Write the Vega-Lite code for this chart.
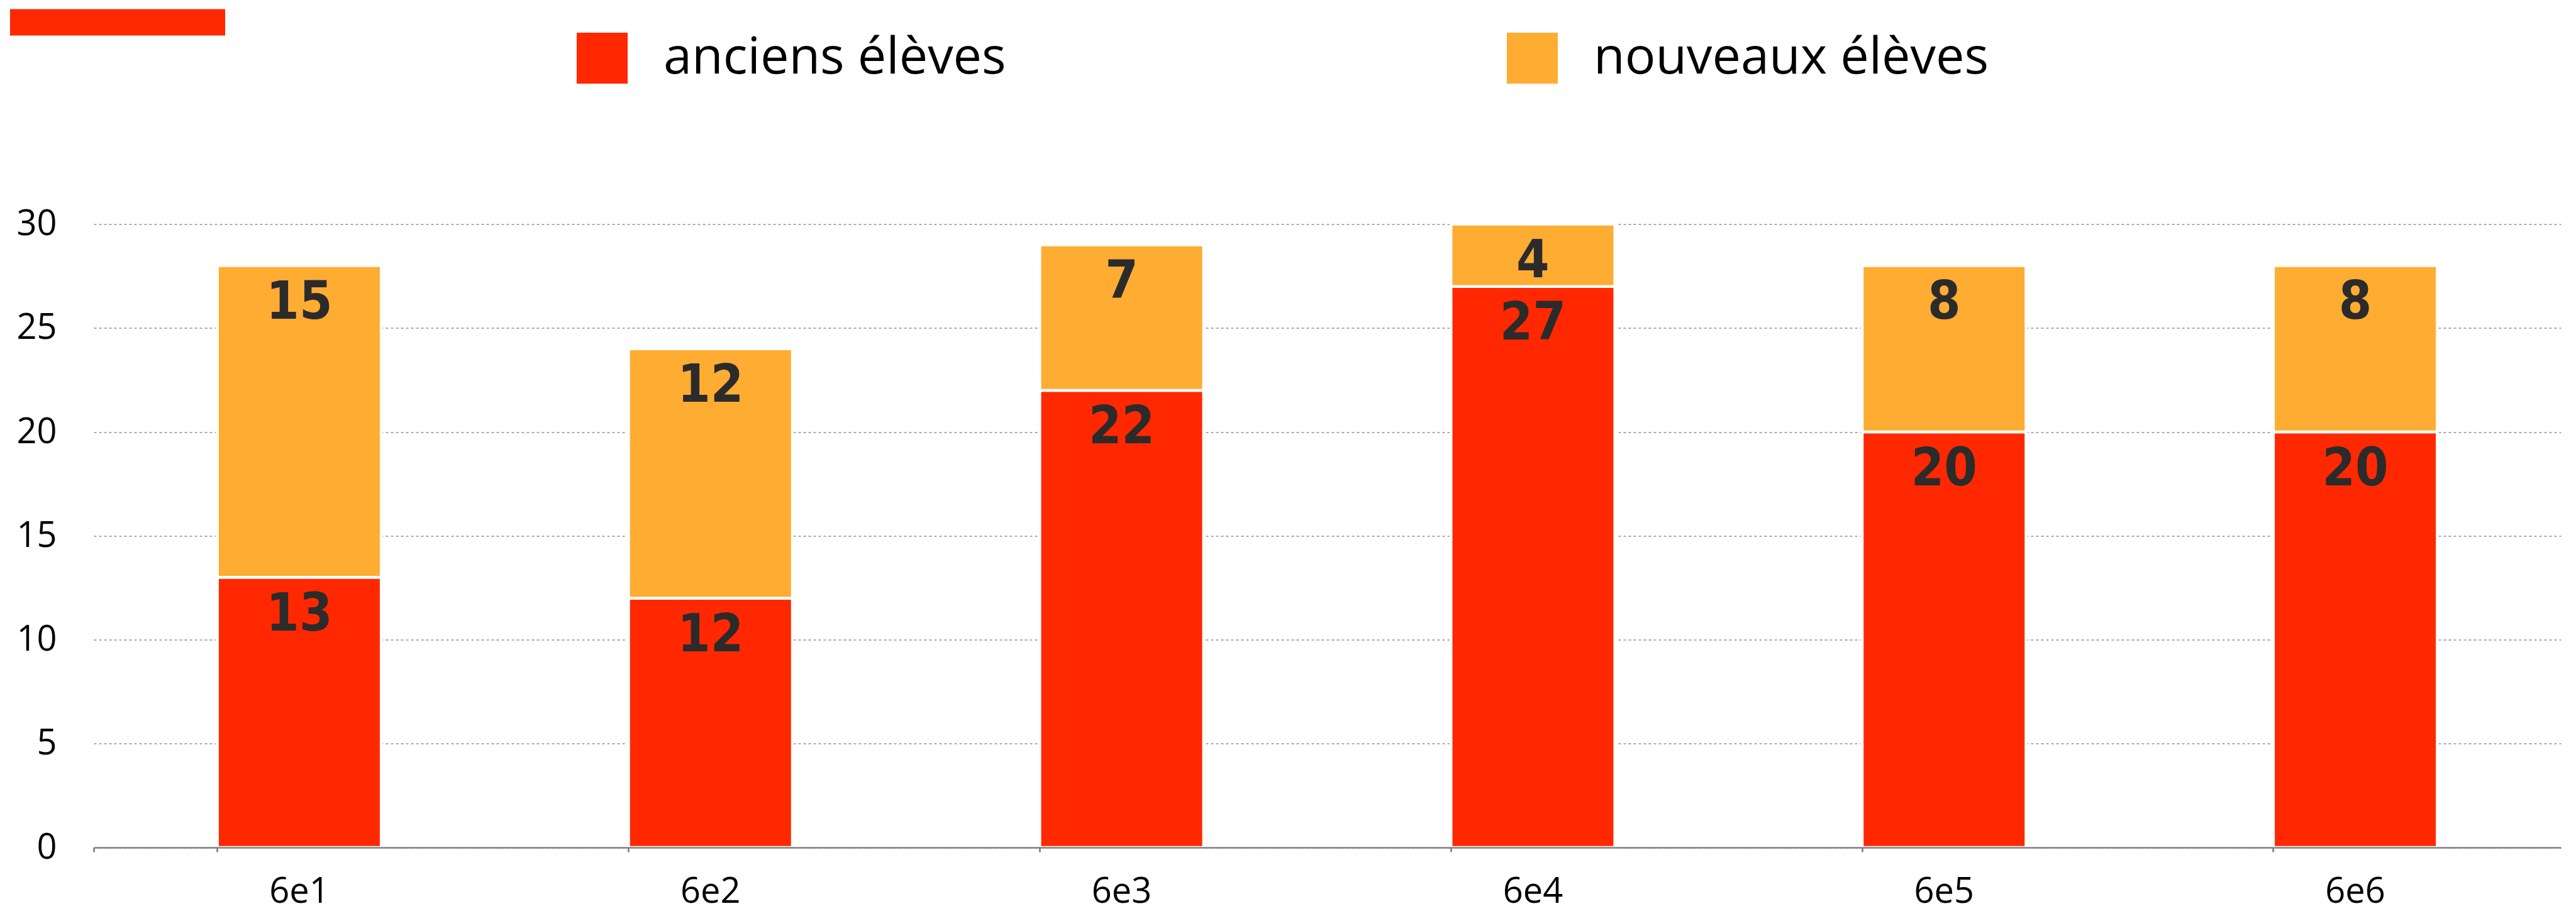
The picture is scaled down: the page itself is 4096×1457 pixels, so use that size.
{
  "$schema": "https://vega.github.io/schema/vega-lite/v6.json",
  "autosize": {"type": "none"},
  "padding": {"left": 149, "top": 356.5, "right": 24, "bottom": 109},
  "width": 3923,
  "height": 991.5,
  "background": "#ffffff",
  "config": {
    "view": {"stroke": null},
    "font": "Open Sans"
  },
  "data": {
    "values": [
      {"classe": "6e1", "serie": "anciens élèves", "n": 13},
      {"classe": "6e1", "serie": "nouveaux élèves", "n": 15},
      {"classe": "6e2", "serie": "anciens élèves", "n": 12},
      {"classe": "6e2", "serie": "nouveaux élèves", "n": 12},
      {"classe": "6e3", "serie": "anciens élèves", "n": 22},
      {"classe": "6e3", "serie": "nouveaux élèves", "n": 7},
      {"classe": "6e4", "serie": "anciens élèves", "n": 27},
      {"classe": "6e4", "serie": "nouveaux élèves", "n": 4},
      {"classe": "6e5", "serie": "anciens élèves", "n": 20},
      {"classe": "6e5", "serie": "nouveaux élèves", "n": 8},
      {"classe": "6e6", "serie": "anciens élèves", "n": 20},
      {"classe": "6e6", "serie": "nouveaux élèves", "n": 8}
    ]
  },
  "transform": [
    {"stack": "n", "groupby": ["classe"], "sort": [{"field": "serie", "order": "ascending"}], "as": ["n0", "n1"]}
  ],
  "encoding": {
    "x": {
      "field": "classe",
      "type": "nominal",
      "sort": null,
      "scale": {"paddingInner": 0.6016, "paddingOuter": 0.3008},
      "axis": {
        "title": null,
        "bandPosition": 0,
        "tickExtra": true,
        "ticks": true,
        "tickSize": 7,
        "tickWidth": 2.7,
        "tickColor": "#808080",
        "domain": true,
        "domainColor": "#808080",
        "domainWidth": 2.7,
        "grid": false,
        "labelAngle": 0,
        "labelFont": "Open Sans",
        "labelFontSize": 56,
        "labelColor": "#000000",
        "labelBaseline": "alphabetic",
        "labelPadding": 80,
        "labelFlush": false,
        "zindex": 1
      }
    }
  },
  "layer": [
    {
      "mark": {"type": "bar", "stroke": "#ffffff", "strokeWidth": 4.5},
      "encoding": {
        "y": {
          "field": "n0",
          "type": "quantitative",
          "scale": {"domain": [0, 30], "clamp": true, "nice": false},
          "axis": {
            "title": null,
            "values": [0, 5, 10, 15, 20, 25, 30],
            "domain": false,
            "ticks": false,
            "grid": true,
            "gridColor": "#ababab",
            "gridDash": [4, 4],
            "gridWidth": 2,
            "labelFont": "Open Sans",
            "labelFontSize": 56,
            "labelColor": "#000000",
            "labelPadding": 59,
            "zindex": 0
          }
        },
        "y2": {"field": "n1"},
        "color": {
          "field": "serie",
          "type": "nominal",
          "scale": {"domain": ["anciens élèves", "nouveaux élèves"], "range": ["#FF2800", "#FFAC33"]},
          "legend": {
            "title": null,
            "orient": "none",
            "legendX": 768,
            "legendY": -304.5,
            "direction": "horizontal",
            "columns": 2,
            "columnPadding": 796,
            "padding": 0,
            "symbolType": "square",
            "symbolSize": 6561,
            "symbolStrokeWidth": 0,
            "labelFont": "Open Sans",
            "labelFontSize": 81,
            "labelColor": "#000000",
            "labelOffset": 57,
            "labelLimit": 2000
          }
        }
      }
    },
    {
      "mark": {"type": "text", "font": "DejaVu Sans Condensed, Roboto", "fontWeight": "bold", "fontSize": 84, "color": "#2b2b2b", "baseline": "alphabetic", "align": "center", "dy": 84.5},
      "encoding": {
        "y": {"field": "n1", "type": "quantitative"},
        "text": {"field": "n", "type": "quantitative"}
      }
    },
    {
      "mark": {"type": "point", "filled": true, "opacity": 0, "color": "#FF2800"},
      "encoding": {
        "y": {"field": "n1", "type": "quantitative"},
        "shape": {
          "datum": "deco",
          "scale": {"range": ["M-1,-0.1228H1V0.1228H-1Z"]},
          "legend": {
            "title": null,
            "orient": "none",
            "legendX": -133,
            "legendY": -492,
            "padding": 0,
            "symbolSize": 116964,
            "symbolFillColor": "#FF2800",
            "symbolStrokeColor": "#FF2800",
            "symbolStrokeWidth": 0,
            "symbolOpacity": 1,
            "labelExpr": "''",
            "labelOffset": 0
          }
        }
      }
    }
  ]
}
